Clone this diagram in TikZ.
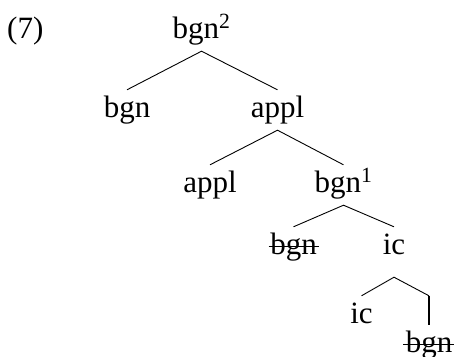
\documentclass[tikz,border=0pt]{standalone}
\usepackage{fontspec}
\setmainfont{Liberation Serif}
\begin{document}
\begin{tikzpicture}[x=1pt,y=-1pt,
  lbl/.style={anchor=base,inner xsep=0pt,inner ysep=6pt,text height=21pt,text depth=7pt,font=\fontsize{31}{37}\selectfont},
  edge/.style={line width=0.9pt},
  vedge/.style={line width=1.3pt},
  strike/.style={line width=1.5pt}]
\useasboundingbox (0,0) rectangle (455,356);
\node[lbl,anchor=base west] (num) at (7,38) {(7)};
\node[lbl] (r) at (201.5,38) {bgn\textsuperscript{2}};
\node[lbl] (a) at (127,117) {bgn};
\node[lbl] (b) at (277.5,117) {appl};
\node[lbl] (c) at (210,192) {appl};
\node[lbl] (d) at (343.5,192) {bgn\textsuperscript{1}};
\node[lbl] (e) at (293.5,254) {bgn};
\node[lbl] (f) at (394,254) {ic};
\node[lbl] (g) at (361.5,323) {ic};
\node[lbl] (h) at (429,352) {bgn};
\coordinate (j) at ([yshift=-10pt]f.south);
\coordinate (k) at (h.north |- g.north);
\draw[edge] (a.north) -- (r.south) -- (b.north);
\draw[edge] (c.north) -- (b.south) -- (d.north);
\draw[edge] (e.north) -- (d.south) -- (f.north);
\draw[edge] (g.north) -- (j) -- (k);
\draw[vedge] (k) -- (h.north);
\draw[strike] ([xshift=-1.5pt,yshift=7.5pt]e.base west) -- ([xshift=2pt,yshift=7.5pt]e.base east);
\draw[strike] ([xshift=-2.5pt,yshift=7.5pt]h.base west) -- ([xshift=2pt,yshift=7.5pt]h.base east);
\end{tikzpicture}
\end{document}
